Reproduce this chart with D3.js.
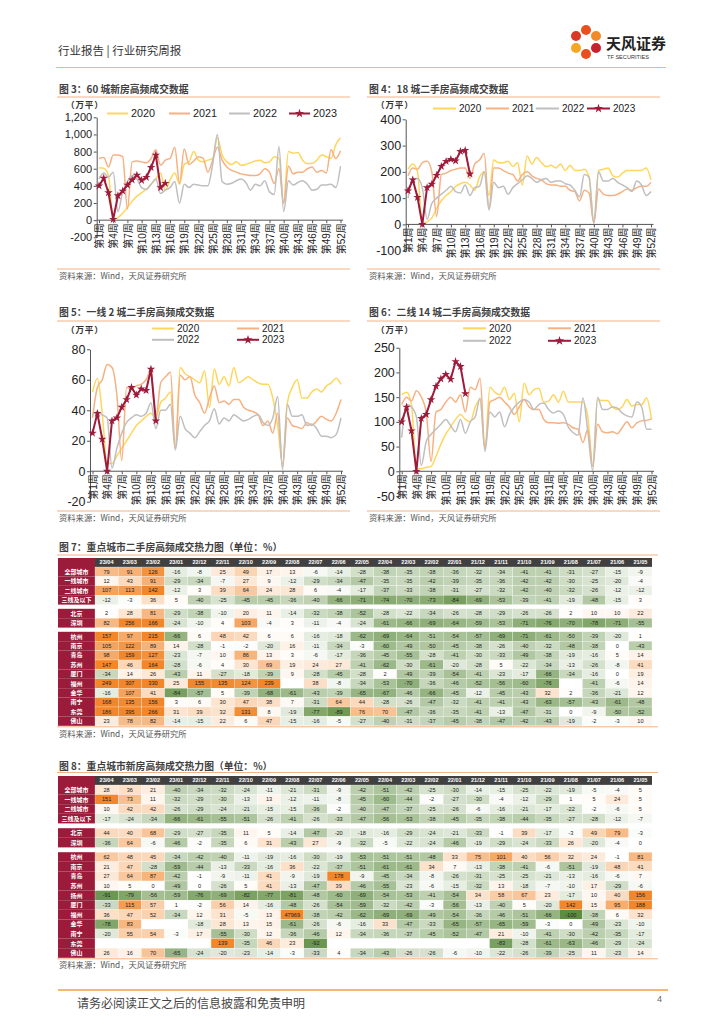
<!DOCTYPE html>
<html>
<head>
<meta charset="utf-8">
<style>
  body { margin: 0; background: #fff; }
  .cn { font-family: "Noto Sans CJK SC", sans-serif; }
  .num { font-family: "Liberation Sans", "Noto Sans CJK SC", sans-serif; }
</style>
</head>
<body>
<script src="https://d3js.org/d3.v7.min.js"></script>
<div id="page"></div>

<script type="text/javascript">

// weeks on the category axis, labels every third week
var weeks = d3.range(1, 53);
var labelWeeks = [1, 4, 7, 10, 13, 16, 19, 22, 25, 28, 31, 34, 37, 40, 43, 46, 49, 52];
var years = ["2020", "2021", "2022", "2023"];

// 图3：60城新房（万平）
var newHome60_2020 = [610, 605, 520, 10, 30, 80, 150, 220, 280, 320, 360, 420, 480, 550, 350, 470, 550, 420, 650, 680, 800, 700, 680, 700, 720, 960, 760, 680, 650, 680, 640, 650, 670, 690, 700, 670, 680, 740, 720, 200, 800, 780, 790, 700, 660, 660, 700, 760, 740, 720, 880, 960];
var newHome60_2021 = [720, 730, 620, 760, 760, 740, 130, 680, 690, 680, 670, 720, 820, 640, 700, 720, 850, 430, 830, 650, 690, 740, 720, 560, 700, 850, 700, 620, 580, 560, 540, 530, 520, 520, 540, 600, 560, 430, 600, 200, 630, 540, 560, 560, 600, 620, 560, 580, 550, 820, 720, 810];
var newHome60_2022 = [480, 550, 500, 560, 100, 330, 450, 520, 480, 380, 360, 420, 480, 310, 350, 380, 450, 200, 420, 380, 420, 410, 400, 400, 650, 1000, 450, 420, 430, 460, 480, 440, 350, 420, 400, 460, 330, 300, 860, 100, 460, 410, 440, 460, 420, 350, 360, 410, 410, 420, 380, 630];
var newHome60_2023 = [400, 490, 320, 10, 285, 340, 410, 470, 525, 465, 500, 615, 760, 380, 430];

// 图4：18城二手房（万平）
var second18_2020 = [210, 230, 200, 5, 10, 25, 60, 90, 110, 125, 145, 155, 160, 150, 130, 180, 200, 110, 245, 235, 235, 240, 220, 235, 150, 260, 230, 255, 235, 220, 225, 215, 230, 205, 225, 205, 205, 210, 180, 5, 205, 210, 215, 185, 180, 195, 205, 205, 205, 205, 215, 170];
var second18_2021 = [185, 215, 210, 235, 240, 200, 30, 190, 195, 205, 210, 215, 215, 175, 230, 245, 270, 60, 215, 215, 205, 195, 190, 165, 190, 200, 185, 175, 170, 155, 150, 150, 145, 145, 130, 125, 90, 130, 120, 5, 135, 115, 110, 110, 115, 125, 135, 130, 140, 145, 145, 160];
var second18_2022 = [100, 170, 175, 140, 20, 80, 100, 115, 130, 145, 125, 120, 150, 110, 140, 145, 200, 55, 160, 140, 145, 115, 140, 155, 170, 185, 175, 160, 170, 175, 160, 165, 165, 155, 150, 130, 105, 190, 180, 5, 200, 165, 165, 175, 160, 150, 140, 125, 165, 150, 110, 125];
var second18_2023 = [128, 170, 103, 0, 140, 153, 187, 221, 240, 248, 242, 278, 282, 192];

// 图5：一线2城二手房（万平）
var tier1_2020 = [52, 61, 38, 5, 5, 10, 15, 20, 25, 30, 33, 36, 38, 35, 45, 48, 52, 15, 68, 64, 62, 60, 58, 66, 42, 67, 57, 62, 56, 68, 58, 60, 62, 60, 58, 57, 57, 48, 30, 5, 45, 55, 60, 48, 48, 52, 54, 52, 56, 58, 61, 57];
var tier1_2021 = [35, 55, 60, 70, 68, 50, 7, 55, 54, 56, 57, 60, 66, 35, 58, 62, 65, 15, 63, 60, 62, 50, 45, 38, 48, 56, 45, 46, 44, 47, 47, 42, 40, 39, 37, 30, 33, 25, 38, 3, 35, 30, 29, 28, 32, 30, 33, 36, 34, 33, 38, 47];
var tier1_2022 = [37, 39, 37, 35, 2, 15, 25, 32, 35, 37, 36, 38, 45, 28, 40, 40, 44, 14, 36, 28, 25, 22, 26, 30, 33, 41, 31, 35, 33, 37, 35, 33, 34, 36, 37, 32, 30, 35, 49, 1, 44, 36, 36, 37, 30, 31, 28, 23, 23, 22, 24, 35];
var tier1_2023 = [25, 38, 21, 0, 33, 35, 42, 47, 55, 50, 54, 53, 67, 33];

// 图6：二线14城二手房（万平）
var tier2_2020 = [155, 160, 135, 5, 5, 8, 10, 30, 55, 75, 90, 105, 115, 105, 100, 130, 145, 45, 170, 160, 155, 170, 145, 158, 100, 178, 155, 165, 168, 140, 142, 155, 140, 162, 140, 140, 140, 140, 110, 10, 145, 143, 143, 130, 125, 130, 145, 132, 135, 135, 148, 105];
var tier2_2021 = [135, 150, 142, 163, 150, 120, 20, 120, 125, 140, 150, 140, 155, 120, 170, 165, 188, 45, 140, 145, 150, 140, 130, 115, 130, 145, 130, 125, 125, 105, 98, 98, 97, 98, 95, 88, 85, 58, 85, 10, 95, 80, 78, 80, 76, 88, 100, 88, 98, 102, 103, 106];
var tier2_2022 = [68, 135, 130, 110, 12, 60, 75, 85, 95, 105, 92, 80, 105, 77, 100, 110, 148, 40, 120, 110, 120, 90, 115, 130, 140, 145, 140, 125, 135, 138, 125, 118, 122, 115, 90, 78, 73, 148, 80, 2, 150, 125, 125, 130, 128, 118, 112, 110, 140, 130, 85, 85];
var tier2_2023 = [100, 130, 82, 0, 107, 115, 145, 172, 187, 196, 186, 222, 212, 157];

// heat map columns (同比, %)
var months = ["23/04", "23/03", "23/02", "23/01", "22/12", "22/11", "22/10", "22/09", "22/08", "22/07", "22/06", "22/05",
              "22/04", "22/03", "22/02", "22/01", "21/12", "21/11", "21/10", "21/09", "21/08", "21/07", "21/06", "21/05"];

// 图7：二手房
var hm7Groups = [["全部城市", "一线城市", "二线城市", "三线及以下"], ["北京", "深圳"],
                 ["杭州", "南京", "青岛", "苏州", "厦门", "福州", "金华", "南宁", "东莞", "佛山"]];
var hm7Values = [
  [79, 91, 126, -16, -8, 25, 49, 17, 13, -6, -14, -28, -38, -35, -38, -36, -32, -34, -41, -41, -31, -27, -15, -9],
  [12, 43, 91, -29, -34, -7, 27, 9, -12, -29, -34, -47, -35, -35, -42, -39, -35, -36, -42, -42, -30, -25, -20, -4],
  [107, 113, 142, -12, 3, 39, 64, 24, 28, 6, -4, -17, -37, -33, -38, -31, -27, -32, -42, -40, -32, -26, -12, -12],
  [-12, -3, 36, 5, -40, -25, -45, -45, -36, -40, -66, -71, -74, -70, -73, -84, -69, -53, -39, -41, -19, -48, -15, 3],
  [2, 28, 81, -29, -38, -10, 20, 11, -14, -32, -38, -52, -28, -22, -34, -26, -28, -29, -26, -26, 2, 10, 10, 22],
  [82, 256, 166, -24, -10, 4, 103, -4, 3, -11, -4, -24, -61, -66, -69, -64, -59, -53, -71, -76, -70, -78, -71, -55],
  [157, 97, 215, -66, 6, 48, 42, 6, 6, -16, -18, -62, -69, -64, -51, -54, -57, -69, -71, -61, -50, -39, -20, 1],
  [105, 122, 89, 14, -28, -1, -2, -20, 16, -11, -34, -3, -60, -49, -50, -45, -38, -26, -40, -32, -48, -38, 0, -43],
  [98, 159, 127, -23, -7, 10, 86, 13, 3, -6, -17, -36, -45, -55, -28, -41, -30, -33, -49, -38, -19, -16, 5, 14],
  [147, 46, 164, -28, -6, 4, 30, 69, 19, 24, 27, -41, -62, -30, -61, -20, -28, 5, -22, -34, -13, -26, -8, 41],
  [-34, 14, 26, -43, 11, -27, -18, -39, 9, -28, -45, -28, 2, -49, -39, -54, -41, -23, -17, -66, -34, -16, 0, 19],
  [249, 307, 330, 25, 155, 135, 124, 239, null, 38, -8, -34, -53, -70, -36, -46, -52, -56, -60, -76, null, -41, -6, 14],
  [-16, 107, 41, -84, -57, 5, -39, -68, -61, -43, -39, -65, -67, -46, -66, -45, -12, -45, -43, 32, 2, -36, -21, 12],
  [168, 135, 156, 3, 6, 30, 47, 38, 7, -31, 64, 44, -28, -26, -47, -32, -41, -41, -43, -63, -57, -43, -61, -48],
  [186, 395, 266, 31, 39, 32, 131, 8, -19, -77, -89, 76, 70, -47, -36, -35, -41, -13, -47, -31, 0, -9, -50, -52],
  [23, 78, 82, -14, -15, 22, 6, 47, -15, -16, -5, -27, -40, -31, -37, -45, -38, -47, -42, -43, -19, -2, -3, 10]
];

// 图8：新房
var hm8Groups = [["全部城市", "一线城市", "二线城市", "三线及以下"], ["北京", "深圳"],
                 ["杭州", "南京", "青岛", "苏州", "扬州", "厦门", "福州", "金华", "南宁", "东莞", "佛山"]];
var hm8Values = [
  [28, 36, 21, -40, -34, -32, -24, -11, -21, -31, -9, -42, -51, -42, -25, -30, -14, -15, -25, -22, -19, -5, -4, 5],
  [151, 73, 11, -32, -29, -30, -13, 13, -12, -11, -8, -45, -60, -44, -2, -27, -30, -4, -12, -29, 1, 5, 24, 5],
  [10, 42, 42, -26, -29, -24, -21, -15, -15, -36, -2, -40, -47, -37, -25, -26, -6, -16, -21, -17, -22, -2, -6, 5],
  [-17, -24, -34, -66, -61, -55, -51, -26, -41, -26, -33, -47, -56, -53, -38, -45, -35, -38, -44, -35, -27, -28, -12, -7],
  [44, 40, 68, -29, -27, -35, 11, 5, -14, -47, -20, -18, -16, -29, -24, -21, -33, -1, 39, -17, -3, 49, 79, -3],
  [-36, 64, -6, -46, -2, -35, 6, 31, -43, 27, -9, -32, -5, -22, -24, -46, -19, -29, -24, -33, 26, -20, -4, 0],
  [62, 48, 45, -34, -42, -40, -11, -19, -16, -30, -19, -53, -51, -51, -48, 33, 75, 101, 40, 56, 32, 24, -1, 81],
  [21, 47, -28, -59, -44, -13, -33, -16, 36, -22, -37, -51, -61, -61, 34, 7, -13, -38, -41, -6, -51, -19, 48, 41],
  [27, 64, 87, -42, -1, -9, -11, 41, -9, -19, 178, -9, -45, -34, -8, -26, -31, -25, -25, -21, -13, -16, -6, 7],
  [10, 5, 0, -49, 0, -26, 5, 41, -13, -47, 39, -46, -55, -23, -6, -15, -32, 13, -18, -7, -10, 17, -29, -6],
  [-91, -79, -56, -59, -76, -69, -82, -77, -81, -48, -60, -69, -54, -53, -41, -54, 34, 58, 67, 23, -17, 10, 40, 156],
  [-33, 115, 57, 1, -2, 56, 14, -16, -48, -26, -54, -59, -32, -42, -3, -56, -13, -40, 5, -20, 142, 15, 95, 188],
  [36, 47, 52, -34, 12, 31, -5, 13, 47969, -38, -42, -62, -69, -69, -49, -54, -36, -46, -51, -66, -100, -38, 6, 32],
  [-78, 83, null, null, -18, 28, 13, 15, -61, -26, -6, -16, 33, -47, -33, -65, -57, -65, -59, -3, 0, -49, -23, -10],
  [-20, 55, 54, -3, 17, -55, -30, 12, -36, -46, 12, -34, -36, -37, -45, -52, -47, 21, -10, -41, -30, -42, -35, -17],
  [null, null, null, null, null, 139, -35, 46, 23, -92, null, null, null, null, null, null, null, -83, -28, -61, -63, -46, -29, -24],
  [26, 16, 70, -65, -24, -20, -23, -14, -3, -33, 4, -34, -43, -26, -26, -6, -10, -22, -26, -39, -25, 11, -23, 14]
];

var sourceText = "资料来源：Wind，天风证券研究所";

// colours
var yearColor = d3.scaleOrdinal()
    .domain(years)
    .range(["#FFD65C", "#F6B183", "#BFBFBF", "#9E1B3B"]);
var ruleColor = "#F4B183";
var axisColor = "#555";
var labelRed = "#9B1B3A";

var fmt = d3.formatLocale({decimal: ".", thousands: ",", grouping: [3], currency: ["", ""], minus: "-"}).format(",");

var svg = d3.select("#page")
    .append("svg")
    .attr("width", 724)
    .attr("height", 1024);

// ---------- page header / footer ----------
svg.append("text")
    .attr("class", "cn")
    .attr("x", 58).attr("y", 55)
    .attr("font-size", 11.5).attr("fill", "#333")
    .text("行业报告 | 行业研究周报");

svg.append("line")
    .attr("x1", 56).attr("x2", 666).attr("y1", 67.5).attr("y2", 67.5)
    .attr("stroke", ruleColor).attr("stroke-width", 1);

// logo: little flower + name
var logo = svg.append("g").attr("transform", "translate(586,42)");
var petals = [[0, -12, "#E8501E"], [10, -6, "#F08A2A"], [10, 6, "#C8202F"], [0, 12, "#E8501E"], [-10, 6, "#F5A623"], [-10, -6, "#D93A26"]];
petals.forEach(function(p) {
    logo.append("circle")
        .attr("cx", p[0]).attr("cy", p[1])
        .attr("r", 5)
        .attr("fill", p[2]);
});
logo.append("circle").attr("r", 4).attr("fill", "#fff");
svg.append("text")
    .attr("class", "cn")
    .attr("x", 606).attr("y", 49)
    .attr("font-size", 15).attr("font-weight", "bold").attr("fill", "#222")
    .text("天风证券");
svg.append("text")
    .attr("class", "num")
    .attr("x", 607).attr("y", 59)
    .attr("font-size", 5.6).attr("fill", "#333")
    .text("TF SECURITIES");

svg.append("line")
    .attr("x1", 58).attr("x2", 668).attr("y1", 990).attr("y2", 990)
    .attr("stroke", "#F0A040").attr("stroke-width", 1.6);
svg.append("text")
    .attr("class", "cn")
    .attr("x", 77).attr("y", 1008)
    .attr("font-size", 12).attr("fill", "#444")
    .text("请务必阅读正文之后的信息披露和免责申明");
svg.append("text")
    .attr("class", "num")
    .attr("x", 662).attr("y", 1002)
    .attr("font-size", 9).attr("fill", "#666")
    .attr("text-anchor", "end")
    .text("4");

// ---------- shared bits ----------
function panelFrame(cfg) {
    svg.append("text")
        .attr("class", "cn")
        .attr("x", cfg.left + 2).attr("y", cfg.titleY)
        .attr("dy", "0.35em")
        .attr("font-size", 9.8).attr("font-weight", "bold").attr("fill", "#404040")
        .text(cfg.title);
    svg.append("line")
        .attr("x1", cfg.left).attr("x2", cfg.right)
        .attr("y1", cfg.ruleTop).attr("y2", cfg.ruleTop)
        .attr("stroke", ruleColor).attr("stroke-width", 1);
    svg.append("line")
        .attr("x1", cfg.left).attr("x2", cfg.right)
        .attr("y1", cfg.ruleBottom).attr("y2", cfg.ruleBottom)
        .attr("stroke", ruleColor).attr("stroke-width", 1);
    svg.append("text")
        .attr("class", "cn")
        .attr("x", cfg.left + 2).attr("y", cfg.sourceY)
        .attr("dy", "0.35em")
        .attr("font-size", 8.3).attr("fill", "#555")
        .text(sourceText);
}

var marker = d3.symbol().type(d3.symbolStar);

function drawLineChart(cfg, series) {
    panelFrame(cfg);

    var x = d3.scalePoint()
        .domain(weeks)
        .range([cfg.x0, cfg.x1]);
    var y = d3.scaleLinear()
        .domain(cfg.domain)
        .range([cfg.yBottom, cfg.yTop]);

    // unit label
    svg.append("text")
        .attr("class", "cn")
        .attr("x", cfg.unitX).attr("y", cfg.unitY)
        .attr("dy", "0.35em")
        .attr("font-size", 8.6).attr("font-weight", "bold").attr("fill", "#333")
        .attr("letter-spacing", 0.8)
        .text("（万平）");

    // Y axis
    var yAxis = svg.append("g")
        .attr("transform", "translate(" + cfg.axisX + ",0)")
        .call(d3.axisLeft(y).tickValues(cfg.ticks).tickSize(3).tickSizeOuter(0).tickPadding(1.5).tickFormat(fmt));
    yAxis.attr("font-family", "'Liberation Sans', sans-serif").attr("font-size", cfg.tickFont);
    yAxis.select(".domain").attr("stroke", axisColor);
    yAxis.selectAll(".tick line").attr("stroke", axisColor);
    yAxis.selectAll(".tick text").attr("fill", "#222");

    // X axis sits on zero
    var xAxis = svg.append("g")
        .attr("transform", "translate(0," + y(0) + ")")
        .call(d3.axisBottom(x).tickValues(labelWeeks).tickSize(3).tickSizeOuter(0)
            .tickFormat(function(d) { return "第" + d + "周"; }));
    xAxis.attr("font-family", "'Liberation Sans', 'Noto Sans CJK SC', sans-serif").attr("font-size", cfg.weekFont);
    xAxis.select(".domain").remove();
    xAxis.selectAll(".tick line").attr("stroke", axisColor);
    xAxis.append("line")
        .attr("x1", cfg.axisX).attr("x2", cfg.xEnd)
        .attr("stroke", axisColor);
    xAxis.selectAll(".tick text")
        .attr("transform", "rotate(-90)")
        .attr("x", -3).attr("y", 0)
        .attr("dy", "0.36em")
        .attr("fill", "#222")
        .style("text-anchor", "end");

    // lines
    series.forEach(function(s) {
        var isNow = s.year === "2023";
        var line = d3.line()
            .x(function(d, i) { return x(weeks[i]); })
            .y(function(d) { return y(d); })
            .curve(isNow ? d3.curveLinear : d3.curveMonotoneX);
        svg.append("path")
            .datum(s.values)
            .attr("fill", "none")
            .attr("stroke", yearColor(s.year))
            .attr("stroke-width", isNow ? 2 : 1.5)
            .attr("stroke-linejoin", "round")
            .attr("d", line);
        if (isNow) {
            svg.selectAll(null)
                .data(s.values)
                .enter()
                .append("path")
                .attr("transform", function(d, i) { return "translate(" + x(weeks[i]) + "," + y(d) + ")"; })
                .attr("d", marker.size(22))
                .attr("fill", yearColor(s.year));
        }
    });

    // legend
    cfg.legend.forEach(function(item) {
        var lg = svg.append("g").attr("transform", "translate(" + item.x + "," + item.y + ")");
        lg.append("line")
            .attr("x1", 0).attr("x2", cfg.legendLen)
            .attr("stroke", yearColor(item.year))
            .attr("stroke-width", 2);
        if (item.year === "2023") {
            lg.append("path")
                .attr("transform", "translate(" + cfg.legendLen / 2 + ",0)")
                .attr("d", marker.size(26))
                .attr("fill", yearColor(item.year));
        }
        lg.append("text")
            .attr("class", "num")
            .attr("x", cfg.legendLen + 3)
            .attr("dy", "0.35em")
            .attr("font-size", cfg.legendFont).attr("fill", "#222")
            .text(item.year);
    });
}

// ---------- the four line charts ----------
drawLineChart({
    title: "图 3：60 城新房高频成交数据",
    left: 57, right: 350, titleY: 90, ruleTop: 97, ruleBottom: 269, sourceY: 276,
    unitX: 66, unitY: 105,
    axisX: 96.7, x0: 99, x1: 340.5, xEnd: 343,
    domain: [-200, 1200], ticks: [-200, 0, 200, 400, 600, 800, 1000, 1200],
    yTop: 117.3, yBottom: 237.3, tickFont: 11, weekFont: 10,
    legendLen: 21, legendFont: 10.8,
    legend: [{year: "2020", x: 107, y: 113.5}, {year: "2021", x: 169, y: 113.5},
             {year: "2022", x: 229, y: 113.5}, {year: "2023", x: 289, y: 113.5}]
}, [
    {year: "2020", values: newHome60_2020},
    {year: "2021", values: newHome60_2021},
    {year: "2022", values: newHome60_2022},
    {year: "2023", values: newHome60_2023}
]);

drawLineChart({
    title: "图 4：18 城二手房高频成交数据",
    left: 367, right: 660, titleY: 90, ruleTop: 97, ruleBottom: 269, sourceY: 276,
    unitX: 376, unitY: 105,
    axisX: 405.7, x0: 408, x1: 651, xEnd: 653.5,
    domain: [-100, 400], ticks: [-100, 0, 100, 200, 300, 400],
    yTop: 119.3, yBottom: 250.7, tickFont: 12.5, weekFont: 10,
    legendLen: 23, legendFont: 10,
    legend: [{year: "2020", x: 433, y: 108.5}, {year: "2021", x: 486, y: 108.5},
             {year: "2022", x: 536, y: 108.5}, {year: "2023", x: 587, y: 108.5}]
}, [
    {year: "2020", values: second18_2020},
    {year: "2021", values: second18_2021},
    {year: "2022", values: second18_2022},
    {year: "2023", values: second18_2023}
]);

drawLineChart({
    title: "图 5：一线 2 城二手房高频成交数据",
    left: 57, right: 350, titleY: 313, ruleTop: 321, ruleBottom: 511, sourceY: 518.5,
    unitX: 66, unitY: 330,
    axisX: 90, x0: 92.5, x1: 341, xEnd: 343,
    domain: [-20, 80], ticks: [-20, 0, 20, 40, 60, 80],
    yTop: 349.3, yBottom: 501.7, tickFont: 12.5, weekFont: 10,
    legendLen: 22, legendFont: 10,
    legend: [{year: "2020", x: 152, y: 328.5}, {year: "2021", x: 237, y: 328.5},
             {year: "2022", x: 152, y: 339.8}, {year: "2023", x: 237, y: 339.8}]
}, [
    {year: "2020", values: tier1_2020},
    {year: "2021", values: tier1_2021},
    {year: "2022", values: tier1_2022},
    {year: "2023", values: tier1_2023}
]);

drawLineChart({
    title: "图 6：二线 14 城二手房高频成交数据",
    left: 367, right: 660, titleY: 313, ruleTop: 321, ruleBottom: 511, sourceY: 518.5,
    unitX: 376, unitY: 330,
    axisX: 399.3, x0: 401.7, x1: 651.5, xEnd: 654,
    domain: [-50, 250], ticks: [-50, 0, 50, 100, 150, 200, 250],
    yTop: 347.7, yBottom: 496, tickFont: 12.5, weekFont: 10,
    legendLen: 23, legendFont: 10,
    legend: [{year: "2020", x: 463, y: 328.3}, {year: "2021", x: 548, y: 328.3},
             {year: "2022", x: 463, y: 340.8}, {year: "2023", x: 548, y: 340.8}]
}, [
    {year: "2020", values: tier2_2020},
    {year: "2021", values: tier2_2021},
    {year: "2022", values: tier2_2022},
    {year: "2023", values: tier2_2023}
]);

// ---------- heat maps ----------
var posColor = d3.scaleLinear().domain([0, 140]).range(["#ffffff", "#F2862A"]).clamp(true);
var negColor = d3.scaleLinear().domain([0, -100]).range(["#ffffff", "#5E8D3F"]).clamp(true);

function cellColor(v) {
    if (v === null) return "#ffffff";
    return v >= 0 ? posColor(v) : negColor(v);
}

function drawHeatmap(cfg, groups, values) {
    svg.append("text")
        .attr("class", "cn")
        .attr("x", cfg.left + 2).attr("y", cfg.titleY)
        .attr("dy", "0.35em")
        .attr("font-size", 9.8).attr("font-weight", "bold").attr("fill", "#404040")
        .text(cfg.title);
    svg.append("line")
        .attr("x1", cfg.left).attr("x2", cfg.right)
        .attr("y1", cfg.ruleTop).attr("y2", cfg.ruleTop)
        .attr("stroke", ruleColor).attr("stroke-width", 1);

    var x = d3.scaleBand()
        .domain(months)
        .range([cfg.x0, cfg.x1]);

    // row positions with a gap between the city groups
    var rows = [];
    var yPos = cfg.top + cfg.headerH;
    groups.forEach(function(group, gi) {
        if (gi > 0) yPos += cfg.gap;
        group.forEach(function(name) {
            rows.push({name: name, y: yPos});
            yPos += cfg.rowH;
        });
    });

    // header row
    svg.append("rect")
        .attr("x", cfg.labelX).attr("y", cfg.top)
        .attr("width", cfg.x0 - cfg.labelX).attr("height", cfg.headerH)
        .attr("fill", labelRed);
    svg.append("rect")
        .attr("x", cfg.x0).attr("y", cfg.top)
        .attr("width", cfg.x1 - cfg.x0).attr("height", cfg.headerH)
        .attr("fill", "#404040");
    svg.selectAll(null)
        .data(months)
        .enter()
        .append("text")
        .attr("class", "num")
        .attr("x", function(d) { return x(d) + x.bandwidth() / 2; })
        .attr("y", cfg.top + cfg.headerH / 2)
        .attr("dy", "0.35em")
        .attr("text-anchor", "middle")
        .attr("font-size", 5.6).attr("font-weight", "bold").attr("fill", "#fff")
        .text(function(d) { return d; });

    rows.forEach(function(r, i) {
        svg.append("rect")
            .attr("x", cfg.labelX).attr("y", r.y)
            .attr("width", cfg.x0 - cfg.labelX).attr("height", cfg.rowH)
            .attr("fill", labelRed);
        svg.append("text")
            .attr("class", "cn")
            .attr("x", (cfg.labelX + cfg.x0) / 2).attr("y", r.y + cfg.rowH / 2)
            .attr("dy", "0.35em")
            .attr("text-anchor", "middle")
            .attr("font-size", 6).attr("font-weight", "bold").attr("fill", "#fff")
            .text(r.name);

        var cells = svg.selectAll(null)
            .data(values[i].map(function(v, j) { return {m: months[j], v: v}; }))
            .enter();
        cells.append("rect")
            .attr("x", function(d) { return x(d.m); })
            .attr("y", r.y)
            .attr("width", x.bandwidth())
            .attr("height", cfg.rowH)
            .attr("fill", function(d) { return cellColor(d.v); })
            .attr("stroke", "#ffffff").attr("stroke-width", 0.25);
        cells.filter(function(d) { return d.v !== null; })
            .append("text")
            .attr("class", "num")
            .attr("x", function(d) { return x(d.m) + x.bandwidth() / 2; })
            .attr("y", r.y + cfg.rowH / 2)
            .attr("dy", "0.35em")
            .attr("text-anchor", "middle")
            .attr("font-size", 5.6).attr("fill", "#222")
            .text(function(d) { return d.v; });
    });

    svg.append("line")
        .attr("x1", cfg.left).attr("x2", cfg.right)
        .attr("y1", yPos + 1).attr("y2", yPos + 1)
        .attr("stroke", ruleColor).attr("stroke-width", 1);
    svg.append("text")
        .attr("class", "cn")
        .attr("x", cfg.left + 2).attr("y", cfg.sourceY)
        .attr("dy", "0.35em")
        .attr("font-size", 8.3).attr("fill", "#555")
        .text(sourceText);
}

drawHeatmap({
    title: "图 7：重点城市二手房高频成交热力图（单位：%）",
    left: 57, right: 658, titleY: 547.5, ruleTop: 555,
    labelX: 58, x0: 95, x1: 652,
    top: 558, headerH: 9, rowH: 9.4, gap: 4.2, sourceY: 734.5
}, hm7Groups, hm7Values);

drawHeatmap({
    title: "图 8：重点城市新房高频成交热力图（单位：%）",
    left: 57, right: 658, titleY: 766.5, ruleTop: 772.5,
    labelX: 58, x0: 95, x1: 652,
    top: 776, headerH: 9, rowH: 9.6, gap: 4.8, sourceY: 965
}, hm8Groups, hm8Values);

</script>
</body>
</html>
